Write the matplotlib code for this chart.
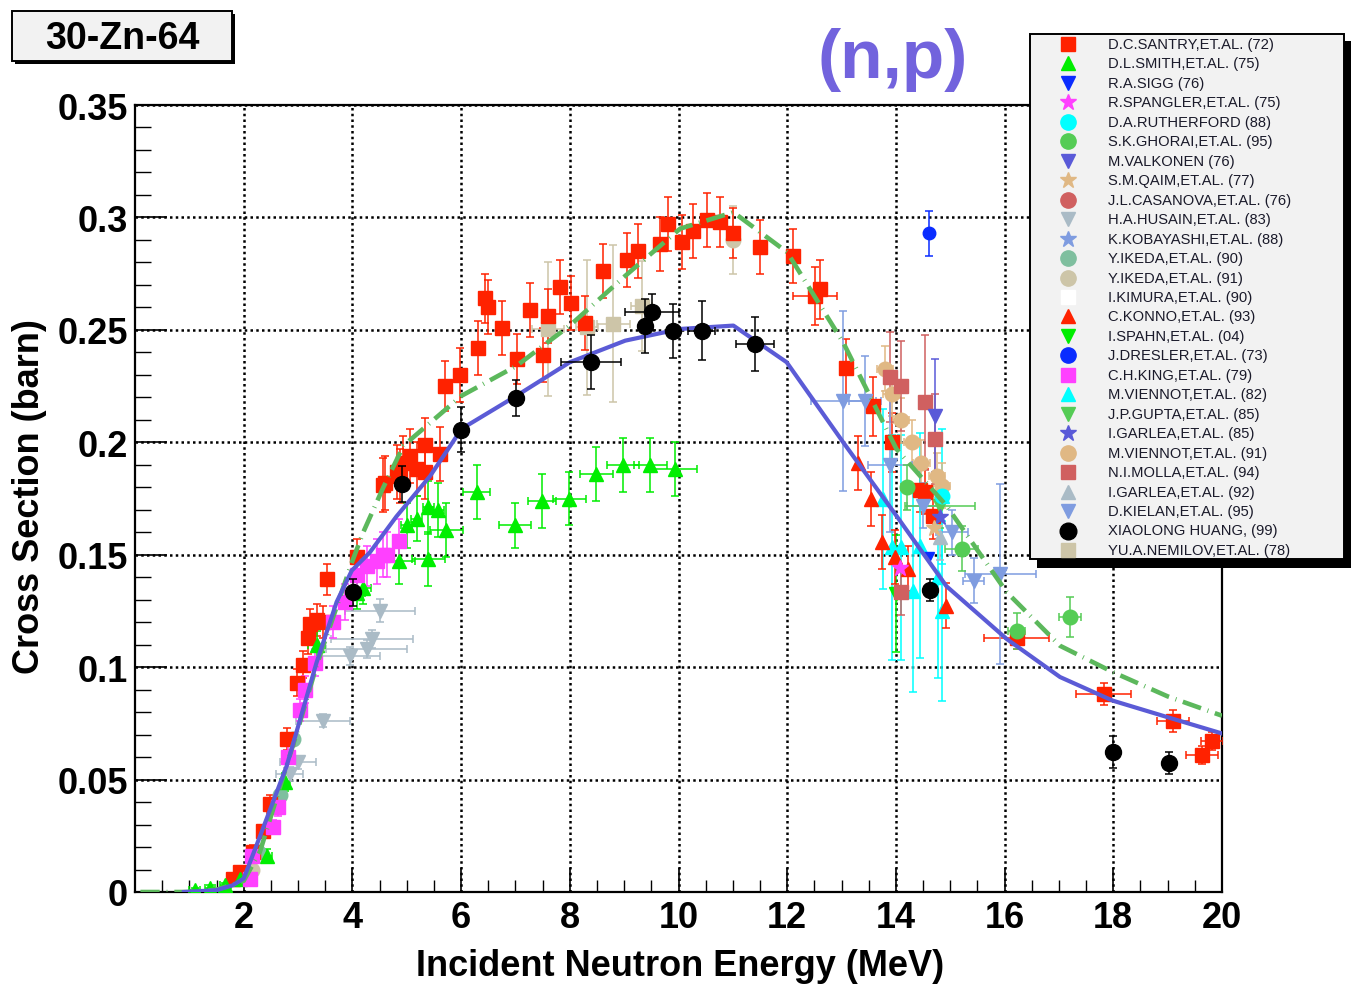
import matplotlib
matplotlib.use("Agg")
import matplotlib.pyplot as plt
from matplotlib.patches import Rectangle

plt.rcParams['font.family'] = ['Liberation Sans', 'DejaVu Sans']

# ---------------- data ----------------
santry_x = [1.81,1.93,2.18,2.36,2.48,2.79,2.98,3.10,3.19,3.22,3.34,3.46,3.53,4.08,4.57,
            4.60,4.82,4.88,4.94,5.06,5.18,5.34,5.34,5.61,5.70,5.98,6.32,6.44,6.50,6.75,
            7.02,7.27,7.51,7.60,7.82,8.03,8.28,8.62,9.05,9.26,9.66,9.81,10.06,10.27,10.52,
            10.76,11.01,11.50,12.11,12.51,12.60,13.09,13.58,13.92,14.44,14.54,14.69,16.22,
            17.82,19.10,19.63,19.81]
santry_y = [0.006,0.009,0.018,0.027,0.039,0.068,0.093,0.101,0.113,0.119,0.121,0.120,0.139,0.149,0.181,
            0.182,0.187,0.185,0.191,0.194,0.188,0.199,0.187,0.195,0.225,0.230,0.242,0.264,0.260,0.251,
            0.237,0.259,0.239,0.256,0.269,0.262,0.253,0.276,0.281,0.285,0.288,0.297,0.289,0.294,0.299,
            0.298,0.293,0.287,0.283,0.265,0.268,0.233,0.216,0.200,0.179,0.178,0.167,0.113,
            0.088,0.076,0.061,0.067]
santry_yerr = [0.002,0.002,0.003,0.003,0.004,0.005,0.006,0.006,0.007,0.007,0.007,0.007,0.007,0.008,0.012,
               0.012,0.012,0.012,0.012,0.012,0.012,0.012,0.012,0.012,0.011,0.012,0.012,0.011,0.012,0.012,
               0.011,0.012,0.012,0.012,0.012,0.012,0.012,0.012,0.012,0.012,0.012,0.012,0.012,0.012,0.012,
               0.011,0.011,0.012,0.012,0.013,0.013,0.013,0.013,0.013,0.010,0.010,0.010,0.005,
               0.005,0.005,0.004,0.004]
santry_xerr = [0]*49 + [0.4,0,0,0,0,0,0,0,0.6,0.5,0.3,0.3,0.2]

smith_x = [1.10,1.38,1.66,1.93,2.42,2.76,3.34,4.08,4.20,4.85,5.00,5.18,5.40,5.40,5.58,5.73,
           6.29,6.99,7.49,7.99,8.49,8.98,9.48,9.94]
smith_y = [0.001,0.002,0.003,0.006,0.016,0.049,0.110,0.133,0.135,0.147,0.163,0.166,0.171,0.148,0.170,0.161,
           0.178,0.163,0.174,0.175,0.186,0.190,0.190,0.188]
smith_yerr = [0.001,0.001,0.001,0.002,0.003,0.004,0.006,0.007,0.007,0.010,0.010,0.010,0.012,0.012,0.012,0.012,
              0.012,0.010,0.012,0.012,0.012,0.012,0.012,0.012]
smith_xerr = [0.1,0.1,0.1,0.1,0.1,0.1,0.15,0.15,0.15,0.3,0.1,0.1,0.1,0.3,0.1,0.3,
              0.25,0.3,0.25,0.3,0.3,0.3,0.3,0.4]

husain_x = [2.85,3.00,3.46,3.96,4.26,4.36,4.51]
husain_y = [0.0525,0.0577,0.0762,0.105,0.108,0.1125,0.1251]
husain_xerr = [0.25,0.33,0.5,0.55,0.75,0.75,0.65]
husain_yerr = [0.003,0.003,0.003,0.004,0.004,0.004,0.005]

king_x = [2.12,2.15,2.54,2.64,2.82,3.04,3.13,3.31,3.65,3.86,4.08,4.26,4.45,4.57,4.63,4.85]
king_y = [0.006,0.016,0.029,0.038,0.060,0.081,0.090,0.102,0.120,0.129,0.141,0.145,0.147,0.150,0.150,0.156]
king_yerr = [0.002,0.003,0.003,0.004,0.005,0.005,0.006,0.006,0.007,0.008,0.008,0.009,0.010,0.010,0.010,0.010]

ikeda90_x = [2.27,2.67,2.91]
ikeda90_y = [0.018,0.043,0.068]
ikeda91_x = [2.15,11.01]
ikeda91_y = [0.010,0.290]
ikeda91_yerr = [0.003,0.015]

huang_x = [4.01,4.91,6.00,7.01,8.39,9.38,9.51,9.90,10.43,11.41,14.63,17.99,19.02]
huang_y = [0.1334,0.1815,0.2055,0.2198,0.2358,0.2519,0.2578,0.2497,0.2497,0.2438,0.1344,0.0623,0.0574]
huang_yerr = [0.006,0.008,0.010,0.008,0.012,0.012,0.008,0.012,0.013,0.012,0.005,0.007,0.005]
huang_xerr = [0,0,0,0,0.55,0,0.5,0,0.25,0.35,0.1,0,0.1]

nemilov_x = [7.60,8.31,8.80,9.32]
nemilov_y = [0.2504,0.2512,0.2527,0.2608]
nemilov_yerr = [0.030,0.030,0.035,0.020]
nemilov_xerr = [0.3,0.2,0.3,0.2]

dresler_x, dresler_y = [14.61], [0.293]
sigg_x, sigg_y = [14.60], [0.149]
spangler_x, spangler_y = [14.08], [0.144]
rutherford_x, rutherford_y = [14.84], [0.176]
ghorai_x = [14.20,15.21,16.22,17.20]
ghorai_y = [0.180,0.1526,0.1162,0.1222]
ghorai_yerr = [0.010,0.010,0.008,0.009]
ghorai_xerr = [0.1,0.3,0.15,0.2]
valkonen_x, valkonen_y = [14.72], [0.2119]
qaim_x, qaim_y = [14.70], [0.162]
konno_x = [13.31,13.55,13.74,13.98,14.23,14.93]
konno_y = [0.191,0.1748,0.1555,0.149,0.1437,0.1273]
konno_yerr = [0.012,0.012,0.012,0.012,0.010,0.010]
spahn_x, spahn_y = [14.01], [0.1326]
viennot82_x = [13.77,13.92,14.10,14.32,14.44,14.78,14.84,14.84]
viennot82_y = [0.1748,0.1533,0.1533,0.134,0.154,0.140,0.125,0.176]
viennot82_yerr = [0.040,0.050,0.050,0.045,0.050,0.045,0.040,0.030]
gupta_x, gupta_y = [14.81], [0.1718]
garlea85_x, garlea85_y = [14.81], [0.1667]
viennot91_x = [13.80,13.92,14.10,14.29,14.47,14.75,14.84]
viennot91_y = [0.2327,0.2215,0.2097,0.200,0.191,0.1852,0.1807]
molla_x = [13.89,14.10,14.54,14.72,14.10]
molla_y = [0.229,0.2252,0.2178,0.2015,0.1333]
molla_yerr = [0.020,0.020,0.030,0.020,0.010]
garlea92_x, garlea92_y = [14.81], [0.1577]
kielan_x = [13.03,13.43,13.89,14.50,15.03,15.43,15.92]
kielan_y = [0.2185,0.2185,0.190,0.1718,0.160,0.1385,0.1415]
kielan_yerr = [0.040,0.020,0.030,0.010,0.010,0.010,0.040]
kielan_xerr = [0.6,0.3,0.4,0.3,0.3,0.2,0.65]

# evaluated curves
eval1_x = [0.9,1.5,1.8,2.0,2.24,2.79,3.34,3.71,3.99,4.32,4.81,5.43,6.01,7.02,8.0,9.02,10.03,11.01,
           11.99,13.03,14.01,14.93,16.04,17.02,17.99,19.1,20.0]
eval1_y = [0.0,0.0008,0.003,0.006,0.021,0.056,0.102,0.129,0.143,0.151,0.167,0.185,0.206,0.2207,0.2356,
           0.2452,0.2504,0.2519,0.2356,0.200,0.1673,0.136,0.1125,0.0956,0.0851,0.077,0.0705]
eval2_x = [0.1,1.0,1.5,2.0,2.3,2.98,3.34,3.99,4.20,4.57,4.94,6.01,7.02,8.0,9.02,10.03,11.01,12.0,
           13.03,14.01,14.93,16.04,17.02,18.0,19.0,20.0]
eval2_y = [0.0,0.0,0.001,0.005,0.018,0.071,0.1006,0.1466,0.160,0.180,0.1985,0.2207,0.234,0.2519,0.274,
           0.295,0.3023,0.2845,0.2444,0.197,0.1718,0.1333,0.1095,0.0977,0.087,0.0784]

legend_labels = ["D.C.SANTRY,ET.AL. (72)", "D.L.SMITH,ET.AL. (75)", "R.A.SIGG (76)",
                 "R.SPANGLER,ET.AL. (75)", "D.A.RUTHERFORD (88)", "S.K.GHORAI,ET.AL. (95)",
                 "M.VALKONEN (76)", "S.M.QAIM,ET.AL. (77)", "J.L.CASANOVA,ET.AL. (76)",
                 "H.A.HUSAIN,ET.AL. (83)", "K.KOBAYASHI,ET.AL. (88)", "Y.IKEDA,ET.AL. (90)",
                 "Y.IKEDA,ET.AL. (91)", "I.KIMURA,ET.AL. (90)", "C.KONNO,ET.AL. (93)",
                 "I.SPAHN,ET.AL. (04)", "J.DRESLER,ET.AL. (73)", "C.H.KING,ET.AL. (79)",
                 "M.VIENNOT,ET.AL. (82)", "J.P.GUPTA,ET.AL. (85)", "I.GARLEA,ET.AL. (85)",
                 "M.VIENNOT,ET.AL. (91)", "N.I.MOLLA,ET.AL. (94)", "I.GARLEA,ET.AL. (92)",
                 "D.KIELAN,ET.AL. (95)", "XIAOLONG HUANG, (99)", "YU.A.NEMILOV,ET.AL. (78)"]
legend_markers = ['s','^','v','*','o','o','v','*','o','v','*','o','o','s','^','v','o','s','^','v','*',
                  'o','s','^','v','o','s']
legend_colors = ['#ff2200','#00ee00','#0a2cff','#ff40ff','#00ffff','#55cc55','#5a5ad8','#e0b884',
                 '#d06060','#aabbc6','#7f9ce0','#7fbf9f','#cdc5a8','#ffffff','#ff2200','#00ee00',
                 '#0a2cff','#ff40ff','#00ffff','#55cc55','#5a5ad8','#e0b884','#d06060','#aabbc6',
                 '#7f9ce0','#000000','#cdc5a8']

yticks = [0, 0.05, 0.1, 0.15, 0.2, 0.25, 0.3, 0.35]
ytick_labels = ['0', '0.05', '0.1', '0.15', '0.2', '0.25', '0.3', '0.35']
xticks = [2, 4, 6, 8, 10, 12, 14, 16, 18, 20]

# ---------------- figure ----------------
W, H = 1353, 995
fig = plt.figure(figsize=(W/100, H/100), dpi=100)
ax = fig.add_axes([135/W, 102/H, 1087/W, 787/H])
ax.set_xlim(0, 20)
ax.set_ylim(0, 0.35)

ax.grid(True, which='major', color='black', linestyle=(0, (1, 1.3)), linewidth=1.8, zorder=1)
ax.set_axisbelow(True)

def ms_for(m):
    return {'s': 9.5, '^': 10, 'v': 10, '*': 12, 'o': 10.5}[m]

def series(x, y, marker, color, yerr=None, xerr=None, ms=None, z=4):
    ax.errorbar(x, y, yerr=yerr, xerr=xerr, fmt=marker, color=color, ms=ms or ms_for(marker),
                mec=color, mfc=color, elinewidth=1.1, ecolor=color, capsize=3, capthick=1.1,
                alpha=1.0, zorder=z)

c = dict(zip(legend_labels, legend_colors))
series(husain_x, husain_y, 'v', c["H.A.HUSAIN,ET.AL. (83)"], yerr=husain_yerr, xerr=husain_xerr)
series(ikeda90_x, ikeda90_y, 'o', c["Y.IKEDA,ET.AL. (90)"])
series(ikeda91_x, ikeda91_y, 'o', c["Y.IKEDA,ET.AL. (91)"], yerr=ikeda91_yerr)
series(nemilov_x, nemilov_y, 's', c["YU.A.NEMILOV,ET.AL. (78)"], yerr=nemilov_yerr, xerr=nemilov_xerr)
series(santry_x, santry_y, 's', c["D.C.SANTRY,ET.AL. (72)"], yerr=santry_yerr, xerr=santry_xerr)
series(smith_x, smith_y, '^', c["D.L.SMITH,ET.AL. (75)"], yerr=smith_yerr, xerr=smith_xerr)
series(king_x, king_y, 's', c["C.H.KING,ET.AL. (79)"], yerr=king_yerr)
series(viennot82_x, viennot82_y, '^', c["M.VIENNOT,ET.AL. (82)"], yerr=viennot82_yerr)
series(spahn_x, spahn_y, 'v', c["I.SPAHN,ET.AL. (04)"], yerr=[0.026])
series(konno_x, konno_y, '^', c["C.KONNO,ET.AL. (93)"], yerr=konno_yerr)
series(viennot91_x, viennot91_y, 'o', c["M.VIENNOT,ET.AL. (91)"], yerr=[0.01]*7, xerr=[0.15]*7)
series(molla_x, molla_y, 's', c["N.I.MOLLA,ET.AL. (94)"], yerr=molla_yerr)
series(kielan_x, kielan_y, 'v', c["D.KIELAN,ET.AL. (95)"], yerr=kielan_yerr, xerr=kielan_xerr)
series(ghorai_x, ghorai_y, 'o', c["S.K.GHORAI,ET.AL. (95)"], yerr=ghorai_yerr, xerr=ghorai_xerr)
series(gupta_x, gupta_y, 'v', c["J.P.GUPTA,ET.AL. (85)"], yerr=[0.01], xerr=[0.65])
series(garlea92_x, garlea92_y, '^', c["I.GARLEA,ET.AL. (92)"], yerr=[0.01])
series(garlea85_x, garlea85_y, '*', c["I.GARLEA,ET.AL. (85)"])
series(qaim_x, qaim_y, '*', c["S.M.QAIM,ET.AL. (77)"])
series(rutherford_x, rutherford_y, 'o', c["D.A.RUTHERFORD (88)"])
series(spangler_x, spangler_y, '*', c["R.SPANGLER,ET.AL. (75)"])
series(valkonen_x, valkonen_y, 'v', c["M.VALKONEN (76)"], yerr=[0.025])
series(sigg_x, sigg_y, 'v', c["R.A.SIGG (76)"], ms=7)
series(dresler_x, dresler_y, 'o', c["J.DRESLER,ET.AL. (73)"], yerr=[0.01], ms=9)

ax.plot(eval2_x, eval2_y, color='#5cb85c', lw=3.3, linestyle=(0, (4.2, 1.5, 0.2, 1.5)), zorder=5)
ax.plot(eval1_x, eval1_y, color='#5b5bd6', lw=3.0, zorder=5)
series(huang_x, huang_y, 'o', '#000000', yerr=huang_yerr, xerr=huang_xerr, ms=11.5, z=6)

# ticks
ax.set_xticks(xticks)
ax.set_xticklabels([str(v) for v in xticks])
ax.set_yticks(yticks)
ax.set_yticklabels(ytick_labels)
ax.set_xticks([v * 0.5 for v in range(1, 40)], minor=True)
ax.set_yticks([v * 0.01 for v in range(1, 35)], minor=True)
ax.xaxis.set_tick_params(which='major', direction='in', length=17, width=1.2, pad=6,
                         labelsize=26)
ax.xaxis.set_tick_params(which='minor', direction='in', length=8.5, width=1.0)
ax.yaxis.set_tick_params(which='major', direction='in', length=23, width=1.2, pad=5,
                         labelsize=26)
ax.yaxis.set_tick_params(which='minor', direction='in', length=11.5, width=1.0)
for lab in ax.get_xticklabels() + ax.get_yticklabels():
    lab.set_fontweight('bold')
for s in ax.spines.values():
    s.set_linewidth(1.6)

# ---------------- overlay (pixel coords) ----------------
ov = fig.add_axes([0, 0, 1, 1], zorder=10)
ov.set_xlim(0, W)
ov.set_ylim(H, 0)
ov.axis('off')
ov.patch.set_alpha(0)

fig.text(680/W, 1 - 967/H, "Incident Neutron Energy (MeV)", ha='center', va='center',
         fontsize=26, fontweight='bold')
fig.text(30/W, 1 - 497/H, "Cross Section (barn)", ha='center', va='center', rotation=90,
         fontsize=26, fontweight='bold')

# title box
ov.add_patch(Rectangle((15, 15), 220, 50, facecolor='black', edgecolor='black', lw=0))
ov.add_patch(Rectangle((12, 12), 220, 50, facecolor='#f2f2f2', edgecolor='black', lw=1.4))
ov.text(122, 39, "30-Zn-64", ha='center', va='center', fontsize=27, fontweight='bold')

# (n,p)
ov.text(893, 60, "(n,p)", ha='center', va='center', fontsize=50, fontweight='bold', color='#7263dd')

# legend box
ov.add_patch(Rectangle((1037, 42), 314, 527, facecolor='black', edgecolor='black', lw=0))
ov.add_patch(Rectangle((1030, 35), 314, 525, facecolor='#f2f2f2', edgecolor='black', lw=1.4))
for i, (lab, mk, col) in enumerate(zip(legend_labels, legend_markers, legend_colors)):
    yy = 45 + i * 19.46
    ms = {'s': 9.5, '^': 10, 'v': 10, '*': 12, 'o': 11}[mk]
    if lab.startswith("XIAOLONG"):
        ms = 12
    ov.plot([1068], [yy], marker=mk, color=col, ms=ms, mec=col, mfc=col, linestyle='none')
    ov.text(1108, yy, lab, ha='left', va='center', fontsize=10.6, color='#1a1a2a')

fig.savefig("out.png", dpi=100)
